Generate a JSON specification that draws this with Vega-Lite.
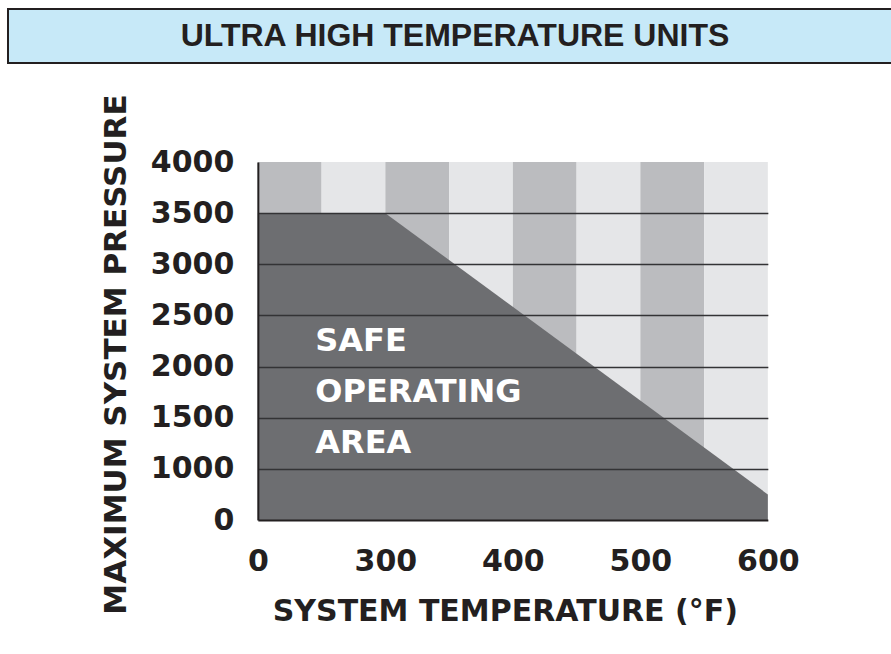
{
  "$schema": "https://vega.github.io/schema/vega-lite/v6.json",
  "padding": {"left": 7, "top": 8, "right": 0, "bottom": 0},
  "autosize": {"type": "pad"},
  "background": "white",
  "spacing": 29,
  "center": true,
  "config": {"view": {"stroke": null}, "font": "DejaVu Sans"},
  "vconcat": [
    {
      "width": 1040,
      "height": 54,
      "view": {"fill": "#c7e9f8", "stroke": "#231f20", "strokeWidth": 2},
      "data": {"values": [{"label": "ULTRA HIGH TEMPERATURE UNITS"}]},
      "mark": {"type": "text", "font": "Liberation Sans", "fontWeight": "bold", "fontSize": 32, "color": "#231f20", "baseline": "middle", "align": "center"},
      "encoding": {
        "x": {"field": "label", "type": "nominal", "axis": null, "scale": {"type": "point", "padding": 0, "align": 0.4298}},
        "text": {"field": "label"}
      }
    },
    {
      "width": 510,
      "height": 358,
      "encoding": {
        "x": {"type": "quantitative", "scale": {"domain": [200, 600], "nice": false, "zero": false}},
        "y": {"type": "quantitative", "scale": {"domain": [500, 4000], "nice": false, "zero": false}}
      },
      "layer": [
        {
          "data": {"values": [
            {"t0": 200, "t1": 250, "shade": "dark"},
            {"t0": 250, "t1": 300, "shade": "light"},
            {"t0": 300, "t1": 350, "shade": "dark"},
            {"t0": 350, "t1": 400, "shade": "light"},
            {"t0": 400, "t1": 450, "shade": "dark"},
            {"t0": 450, "t1": 500, "shade": "light"},
            {"t0": 500, "t1": 550, "shade": "dark"},
            {"t0": 550, "t1": 600, "shade": "light"}
          ]},
          "mark": {"type": "rect"},
          "encoding": {
            "x": {"field": "t0", "type": "quantitative",
              "axis": {
                "values": [200, 300, 400, 500, 600],
                "format": "d",
                "labelExpr": "datum.value == 200 ? '0' : datum.label",
                "labelFlush": false,
                "ticks": false, "grid": false,
                "domain": true, "domainColor": "#231f20", "domainWidth": 2,
                "labelFont": "DejaVu Sans", "labelFontWeight": "bold", "labelFontSize": 30, "labelColor": "#231f20",
                "labelPadding": 26,
                "title": "SYSTEM TEMPERATURE (°F)",
                "titleFont": "DejaVu Sans", "titleFontWeight": "bold", "titleFontSize": 30, "titleColor": "#231f20",
                "titlePadding": 20,
                "titleX": 247,
                "zindex": 1
              }
            },
            "x2": {"field": "t1"},
            "y": {"datum": 4000, "type": "quantitative",
              "axis": {
                "values": [500, 1000, 1500, 2000, 2500, 3000, 3500, 4000],
                "format": "d",
                "labelExpr": "datum.value == 500 ? '0' : datum.label",
                "labelFlush": false,
                "ticks": false,
                "grid": true,
                "gridColor": {"condition": {"test": "datum.value == 4000 || datum.value == 500", "value": "transparent"}, "value": "#333335"},
                "gridWidth": 1.5,
                "domain": true, "domainColor": "#231f20", "domainWidth": 2,
                "labelFont": "DejaVu Sans", "labelFontWeight": "bold", "labelFontSize": 30, "labelColor": "#231f20",
                "labelPadding": 24,
                "title": "MAXIMUM SYSTEM PRESSURE",
                "titleFont": "DejaVu Sans", "titleFontWeight": "bold", "titleFontSize": 31, "titleColor": "#231f20",
                "titlePadding": 18,
                "titleY": 192,
                "zindex": 1
              }
            },
            "y2": {"datum": 500},
            "color": {"field": "shade", "type": "nominal", "legend": null,
              "scale": {"domain": ["dark", "light"], "range": ["#bbbcbf", "#e5e6e8"]}}
          }
        },
        {
          "data": {"values": [
            {"temp": 200, "psi": 3500},
            {"temp": 300, "psi": 3500},
            {"temp": 600, "psi": 750}
          ]},
          "mark": {"type": "area", "color": "#6d6e71", "interpolate": "linear"},
          "encoding": {
            "x": {"field": "temp", "type": "quantitative"},
            "y": {"field": "psi", "type": "quantitative"},
            "y2": {"datum": 500}
          }
        },
        {
          "data": {"values": [
            {"temp": 245, "psi": 2250, "label": "SAFE"},
            {"temp": 245, "psi": 1750, "label": "OPERATING"},
            {"temp": 245, "psi": 1250, "label": "AREA"}
          ]},
          "mark": {"type": "text", "font": "DejaVu Sans", "fontWeight": "bold", "fontSize": 32, "color": "white", "align": "left", "baseline": "middle"},
          "encoding": {
            "x": {"field": "temp", "type": "quantitative"},
            "y": {"field": "psi", "type": "quantitative"},
            "text": {"field": "label"}
          }
        }
      ]
    }
  ]
}
